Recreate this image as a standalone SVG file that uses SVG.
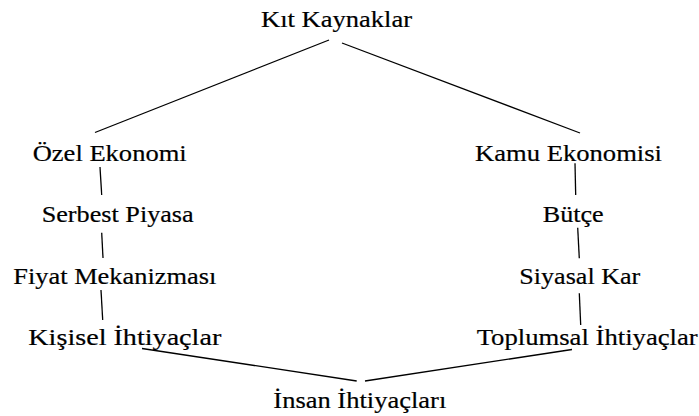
<svg xmlns="http://www.w3.org/2000/svg" width="699" height="416" viewBox="0 0 699 416">
<style>
.t text{fill:#000;stroke:#000;stroke-width:0.2}
.c line{stroke:#000;stroke-width:1.3;fill:none}
</style>
<rect width="699" height="416" fill="#fff"/>
<g class="c" id="connectors">
<line x1="329" y1="40" x2="95" y2="132.5"/>
<line x1="342" y1="43" x2="580" y2="133"/>
<line x1="100" y1="167" x2="101.7" y2="195"/>
<line x1="101.7" y1="232.7" x2="103" y2="258"/>
<line x1="101" y1="290" x2="102.7" y2="320"/>
<line x1="575" y1="163.3" x2="575.7" y2="195"/>
<line x1="577.7" y1="227.7" x2="579.3" y2="258.3"/>
<line x1="579.3" y1="293.3" x2="580.7" y2="325"/>
<line x1="142" y1="348.5" x2="356.7" y2="381"/>
<line x1="365" y1="381" x2="572" y2="349.5"/>
</g>
<g class="t" font-family="Liberation Serif, Times New Roman, serif" font-size="24">
<g id="kit"><text x="261" y="27" textLength="151" lengthAdjust="spacingAndGlyphs">Kıt Kaynaklar</text></g>
<g id="ozel"><text x="32.7" y="161" textLength="154" lengthAdjust="spacingAndGlyphs">Özel Ekonomi</text></g>
<g id="serbest"><text x="41.7" y="222" textLength="152" lengthAdjust="spacingAndGlyphs">Serbest Piyasa</text></g>
<g id="fiyat"><text x="13.3" y="284" textLength="203" lengthAdjust="spacingAndGlyphs">Fiyat Mekanizması</text></g>
<g id="kisisel"><text x="28.3" y="345" textLength="193" lengthAdjust="spacingAndGlyphs">Kişisel İhtiyaçlar</text></g>
<g id="kamu"><text x="475" y="161" textLength="187" lengthAdjust="spacingAndGlyphs">Kamu Ekonomisi</text></g>
<g id="butce"><text x="542.7" y="222" textLength="61" lengthAdjust="spacingAndGlyphs">Bütçe</text></g>
<g id="siyasal"><text x="519.3" y="284" textLength="121" lengthAdjust="spacingAndGlyphs">Siyasal Kar</text></g>
<g id="toplumsal"><text x="476.7" y="345" textLength="221" lengthAdjust="spacingAndGlyphs">Toplumsal İhtiyaçlar</text></g>
<g id="insan"><text x="273.3" y="408" textLength="173" lengthAdjust="spacingAndGlyphs">İnsan İhtiyaçları</text></g>
</g>
</svg>
